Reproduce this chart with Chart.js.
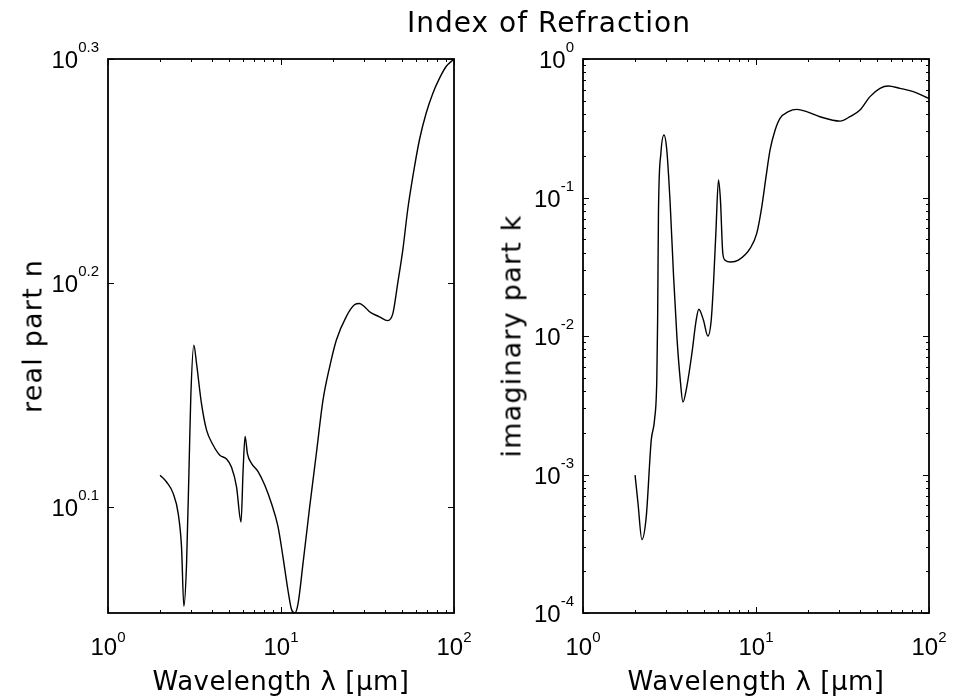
<!DOCTYPE html>
<html><head><meta charset="utf-8">
<script src="https://cdn.jsdelivr.net/npm/chart.js@4"></script>
<style>
body{margin:0;background:#fff;}
#wrap{position:relative;width:953px;height:700px;overflow:hidden;background:#fff;}
canvas{position:absolute;top:0;}
.lbl{position:absolute;font-family:"DejaVu Sans";color:#000;white-space:nowrap;}
#title{font-size:28px;line-height:28px;letter-spacing:1px;left:549px;top:9px;transform:translateX(-50%);}
.xl{font-size:26px;line-height:26px;letter-spacing:0.5px;top:668px;transform:translateX(-50%);}
.yl{font-size:27px;line-height:27px;letter-spacing:1.2px;top:336px;transform:translate(-50%,-50%) rotate(-90deg);}
</style></head><body>
<div id="wrap">
<canvas id="c1" width="476" height="700" style="left:0"></canvas>
<canvas id="c2" width="477" height="700" style="left:476px"></canvas>
<div class="lbl" id="title">Index of Refraction</div>
<div class="lbl xl" style="left:281px">Wavelength λ [μm]</div>
<div class="lbl xl" style="left:756px">Wavelength λ [μm]</div>
<div class="lbl yl" style="left:32px">real part n</div>
<div class="lbl yl" style="left:511px">imaginary part k</div>
</div>
<script>
// ---- data ----
const wavelengthN = [2.0, 2.18, 2.38, 2.545, 2.66, 2.745, 2.845, 2.945, 3.01, 3.135, 3.25, 3.467, 3.71, 4.05, 4.43, 4.84, 5.17, 5.53, 5.875, 6.04, 6.2, 6.4, 6.75, 7.37, 8.05, 8.8, 9.61, 10.27, 10.97, 11.48, 12.0, 12.54, 13.4, 14.64, 16.0, 17.48, 19.1, 20.9, 23.8, 26.6, 28.4, 30.4, 32.5, 37.1, 41.45, 44.3, 47.3, 50.6, 54.0, 57.8, 63.1, 69.0, 75.4, 82.4, 90.0, 100];
const realPartN = [1.301, 1.292, 1.277, 1.251, 1.209, 1.137, 1.188, 1.317, 1.410, 1.487, 1.459, 1.401, 1.363, 1.342, 1.328, 1.323, 1.312, 1.286, 1.240, 1.308, 1.354, 1.330, 1.317, 1.306, 1.288, 1.264, 1.234, 1.196, 1.156, 1.134, 1.129, 1.140, 1.188, 1.259, 1.330, 1.405, 1.454, 1.495, 1.531, 1.550, 1.552, 1.547, 1.539, 1.531, 1.525, 1.536, 1.585, 1.640, 1.709, 1.768, 1.836, 1.887, 1.926, 1.956, 1.980, 1.995];
const wavelengthK = [2.0, 2.08, 2.19, 2.32, 2.48, 2.59, 2.67, 2.70, 2.73, 2.82, 2.94, 3.05, 3.19, 3.34, 3.49, 3.65, 3.78, 3.98, 4.26, 4.51, 4.67, 4.97, 5.27, 5.51, 5.68, 5.86, 6.07, 6.23, 6.43, 6.63, 7.15, 7.91, 9.25, 10.1, 10.8, 11.43, 12.06, 12.9, 13.77, 15.4, 17.2, 19.6, 23.4, 30.6, 34.9, 39.9, 45.6, 52.1, 58.1, 67.9, 81.1, 100];
const imagPartK = [0.00099, 0.000617, 0.000339, 0.000494, 0.00177, 0.00247, 0.00479, 0.0130, 0.0767, 0.2085, 0.2825, 0.2203, 0.0908, 0.0267, 0.00986, 0.0048, 0.00334, 0.0043, 0.00748, 0.0130, 0.0156, 0.0130, 0.0100, 0.0130, 0.0240, 0.0551, 0.1337, 0.0957, 0.0394, 0.0353, 0.0342, 0.0353, 0.0429, 0.0551, 0.0857, 0.1413, 0.2203, 0.307, 0.373, 0.417, 0.4325, 0.417, 0.383, 0.356, 0.383, 0.4285, 0.535, 0.614, 0.638, 0.614, 0.581, 0.519];
const xTickExponents = [0, 1, 2];
const nTickExponents = ['0.1', '0.2', '0.3'];
const kTickExponents = ['-4', '-3', '-2', '-1', '0'];
const nRange = [1.1293, 1.9953];
const kRange = [1e-4, 1];
const xRange = [1, 100];

const axesPlugin = {
  id: 'matlabAxes',
  afterDatasetsDraw(chart, args, opts) {
    const ctx = chart.ctx, a = chart.chartArea, x = chart.scales.x, y = chart.scales.y;
    ctx.save();
    ctx.strokeStyle = '#000';
    ctx.lineWidth = 1;
    ctx.beginPath();
    for (let e = xTickExponents[0]; e < xTickExponents[xTickExponents.length - 1]; e++) {
      for (let m = 1; m <= 10; m++) {
        const px = Math.round(x.getPixelForValue(m * Math.pow(10, e))) + 0.5;
        const len = (m === 1 || m === 10) ? 6 : 3;
        ctx.moveTo(px, a.bottom); ctx.lineTo(px, a.bottom - len);
        ctx.moveTo(px, a.top); ctx.lineTo(px, a.top + len);
      }
    }
    opts.yExps.forEach(s => {
      const v = Math.pow(10, parseFloat(s));
      const py = Math.round(y.getPixelForValue(v)) + 0.5;
      ctx.moveTo(a.left, py); ctx.lineTo(a.left + 6, py);
      ctx.moveTo(a.right, py); ctx.lineTo(a.right - 6, py);
    });
    if (opts.yMinor) {
      const lo = parseFloat(opts.yExps[0]), hi = parseFloat(opts.yExps[opts.yExps.length - 1]);
      for (let e = lo; e < hi; e++) for (let m = 2; m <= 9; m++) {
        const py = Math.round(y.getPixelForValue(m * Math.pow(10, e))) + 0.5;
        ctx.moveTo(a.left, py); ctx.lineTo(a.left + 3, py);
        ctx.moveTo(a.right, py); ctx.lineTo(a.right - 3, py);
      }
    }
    ctx.stroke();
    ctx.lineWidth = 1.8;
    ctx.strokeRect(a.left, a.top, a.right - a.left, a.bottom - a.top);
    ctx.fillStyle = '#000';
    ctx.textBaseline = 'alphabetic';
    ctx.textAlign = 'left';
    const big = '24px "Liberation Sans", Arial, sans-serif';
    const small = '15px "Liberation Sans", Arial, sans-serif';
    xTickExponents.forEach(e => {
      const px = x.getPixelForValue(Math.pow(10, e));
      ctx.font = big; const w1 = ctx.measureText('10').width;
      ctx.font = small; const w2 = ctx.measureText(String(e)).width;
      const sx = px - (w1 + w2) / 2;
      ctx.font = big; ctx.fillText('10', sx, a.bottom + 42);
      ctx.font = small; ctx.fillText(String(e), sx + w1, a.bottom + 29);
    });
    opts.yExps.forEach(s => {
      const py = y.getPixelForValue(Math.pow(10, parseFloat(s)));
      ctx.font = big; const w1 = ctx.measureText('10').width;
      ctx.font = small; const w2 = ctx.measureText(s).width;
      const right = a.left - 9;
      ctx.font = big; ctx.fillText('10', right - w2 - w1, py + 9);
      ctx.font = small; ctx.fillText(s, right - w2, py - 7);
    });
    ctx.restore();
  }
};

function makeChart(id, xs, ys, yRange, yExps, yMinor, pad) {
  return new Chart(document.getElementById(id), {
    type: 'line',
    data: { datasets: [{
      data: xs.map((v, i) => ({ x: v, y: ys[i] })),
      borderColor: '#000', borderWidth: 1.4, pointRadius: 0,
      cubicInterpolationMode: 'monotone', fill: false
    }] },
    options: {
      responsive: false, animation: false, devicePixelRatio: 1,
      layout: { padding: pad },
      plugins: { legend: { display: false }, tooltip: { enabled: false }, matlabAxes: { yExps: yExps, yMinor: yMinor } },
      scales: {
        x: { type: 'logarithmic', min: xRange[0], max: xRange[1], display: false },
        y: { type: 'logarithmic', min: yRange[0], max: yRange[1], display: false }
      }
    },
    plugins: [axesPlugin]
  });
}
makeChart('c1', wavelengthN, realPartN, nRange, nTickExponents, false, { left: 108, right: 22, top: 59, bottom: 87 });
makeChart('c2', wavelengthK, imagPartK, kRange, kTickExponents, true, { left: 107, right: 24, top: 59, bottom: 87 });
</script>
</body></html>
